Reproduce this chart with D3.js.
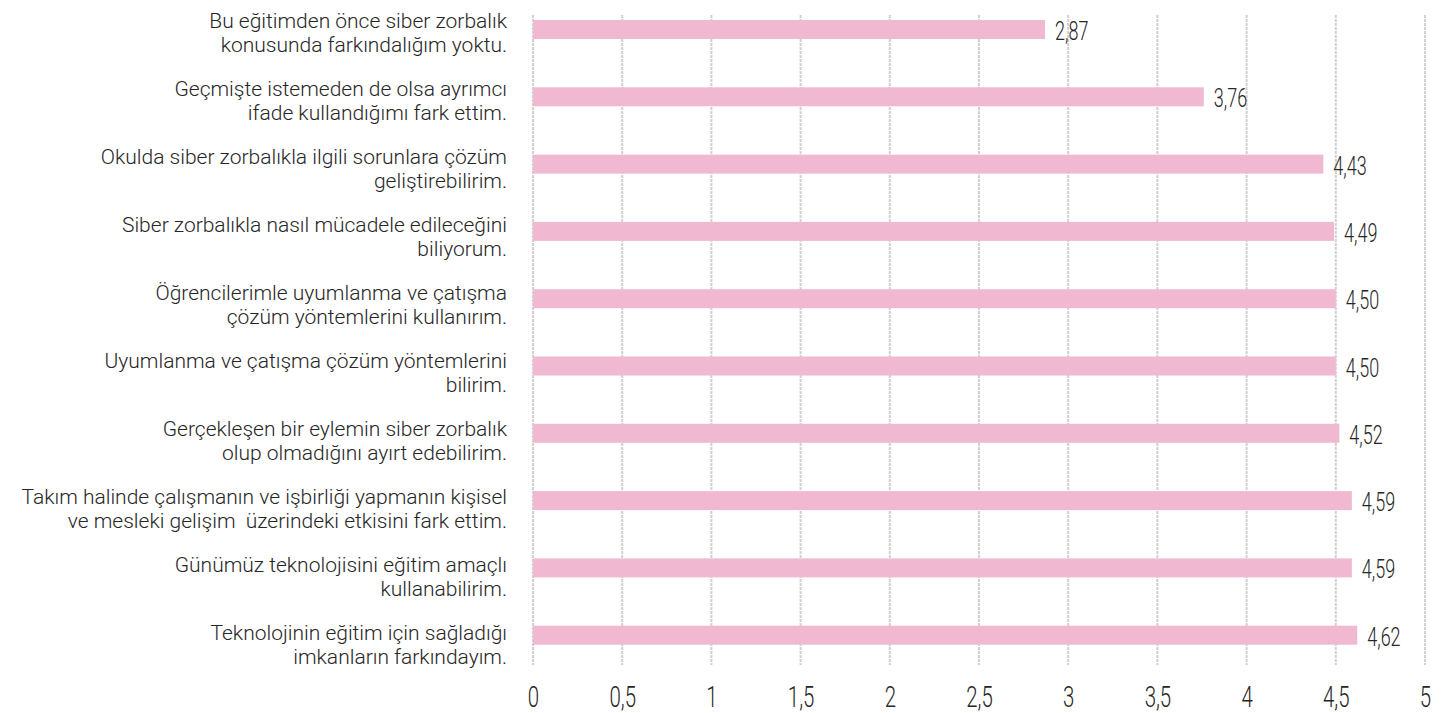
<!DOCTYPE html>
<html lang="tr">
<head>
<meta charset="utf-8">
<title>Bar chart</title>
<script src="https://d3js.org/d3.v7.min.js"></script>
<style>
  body { margin: 0; background: #fff; }
  text { font-family: "Roboto", "DejaVu Sans Condensed", sans-serif; font-weight: 300; fill: #262626; white-space: pre; }
</style>
</head>
<body>
<script>
// data
const categories = [
  ["Bu eğitimden önce siber zorbalık", "konusunda farkındalığım yoktu."],
  ["Geçmişte istemeden de olsa ayrımcı", "ifade kullandığımı fark ettim."],
  ["Okulda siber zorbalıkla ilgili sorunlara çözüm", "geliştirebilirim."],
  ["Siber zorbalıkla nasıl mücadele edileceğini", "biliyorum."],
  ["Öğrencilerimle uyumlanma ve çatışma", "çözüm yöntemlerini kullanırım."],
  ["Uyumlanma ve çatışma çözüm yöntemlerini", "bilirim."],
  ["Gerçekleşen bir eylemin siber zorbalık", "olup olmadığını ayırt edebilirim."],
  ["Takım halinde çalışmanın ve işbirliği yapmanın kişisel", "ve mesleki gelişim  üzerindeki etkisini fark ettim."],
  ["Günümüz teknolojisini eğitim amaçlı", "kullanabilirim."],
  ["Teknolojinin eğitim için sağladığı", "imkanların farkındayım."]
];
const values = [2.87, 3.76, 4.43, 4.49, 4.50, 4.50, 4.52, 4.59, 4.59, 4.62];
const ticks = [0, 0.5, 1, 1.5, 2, 2.5, 3, 3.5, 4, 4.5, 5];

const w = 1456, h = 713;
const plotLeft = 533, plotRight = 1425, plotBottom = 665;

const fmt = d => d3.format(".2f")(d).replace(".", ",");
const tickFmt = d => String(d).replace(".", ",");

const svg = d3.select("body").append("svg")
  .attr("width", w).attr("height", h);

const x = d3.scaleLinear().domain([0, 5]).range([plotLeft, plotRight]);
const y = d3.scaleBand().domain(d3.range(categories.length))
  .range([20, 644.7]).paddingInner(0.7177).paddingOuter(0);
// label baselines run on a slightly wider step than the bars
const yLab = d3.scalePoint().domain(d3.range(categories.length)).range([28, 640]);

// grid
svg.append("g").selectAll("line").data(ticks).join("line")
  .attr("x1", d => x(d)).attr("x2", d => x(d))
  .attr("y1", 15).attr("y2", plotBottom)
  .attr("stroke", "#d0d0d0").attr("stroke-width", 2)
  .attr("stroke-dasharray", "3,1");

// x axis labels
const xAxis = d3.axisBottom(x).tickValues(ticks).tickFormat(tickFmt).tickSize(0).tickPadding(0);
const ax = svg.append("g").attr("transform", "translate(0,707)").call(xAxis);
ax.select(".domain").remove();
ax.attr("font-family", null).attr("font-size", null);
ax.selectAll("text").attr("font-size", 30).attr("y", 0).attr("dy", 0)
  .attr("fill", "#262626").attr("transform", "scale(0.68,1)");

// bars
svg.append("g").selectAll("rect").data(values).join("rect")
  .attr("x", x(0)).attr("y", (d, i) => y(i))
  .attr("width", d => x(d) - x(0)).attr("height", y.bandwidth())
  .attr("fill", "#f1b8d1");

// value labels
svg.append("g").selectAll("text").data(values).join("text")
  .attr("transform", (d, i) => `translate(${x(d) + 10},${y(i) + y.bandwidth() / 2 + 10.5}) scale(0.72,1)`)
  .attr("font-size", 25).text(fmt);

// category labels
const lab = svg.append("g").selectAll("text").data(categories).join("text")
  .attr("text-anchor", "end").attr("font-size", 21)
  .attr("x", 507).attr("y", (d, i) => yLab(i));
lab.selectAll("tspan").data(d => d).join("tspan")
  .attr("x", 507).attr("dy", (d, j) => j === 0 ? 0 : 24)
  .text(d => d);
</script>
</body>
</html>
